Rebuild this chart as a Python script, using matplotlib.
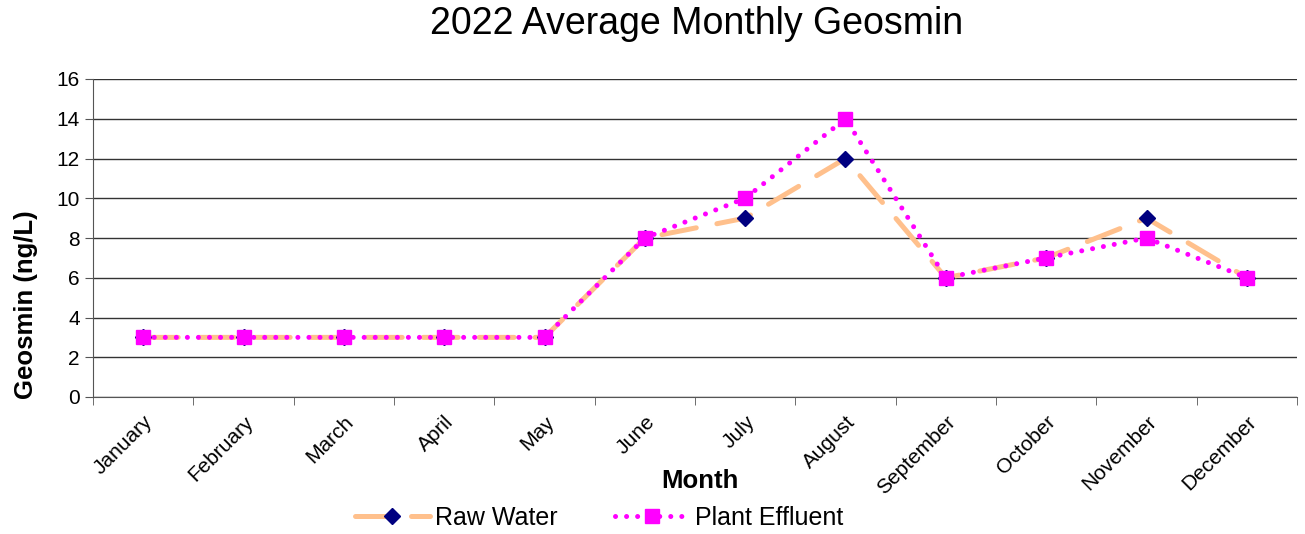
import numpy as np
import matplotlib
matplotlib.use("Agg")
import matplotlib.pyplot as plt

plt.rcParams['font.family'] = ['Liberation Sans', 'DejaVu Sans']

months = ['January', 'February', 'March', 'April', 'May', 'June', 'July',
          'August', 'September', 'October', 'November', 'December']
raw_water = [3, 3, 3, 3, 3, 8, 9, 12, 6, 7, 9, 6]
plant_effluent = [3, 3, 3, 3, 3, 8, 10, 14, 6, 7, 8, 6]

fig = plt.figure(figsize=(13.05, 5.34), dpi=100)
ax = fig.add_axes([93 / 1305, 1 - 397 / 534, (1297 - 93) / 1305, (397 - 79) / 534])

x = np.arange(len(months))
ax.plot(x, raw_water, color='#FFC08C', lw=3.6, dashes=(7, 4.2),
        dash_capstyle='round', marker='D', ms=8, mfc='#000080', mec='#000080',
        label='Raw Water', zorder=3)
ax.plot(x, plant_effluent, color='#FF00FF', lw=3.6, dashes=(0.01, 2.2),
        dash_capstyle='round', marker='s', ms=10.5, mfc='#FF00FF', mec='#FF00FF',
        label='Plant Effluent', zorder=4)

ax.set_xlim(-0.5, len(months) - 0.5)
ax.set_ylim(0, 16)
ax.set_yticks(range(0, 17, 2))
ax.set_xticks(x)
ax.set_xticklabels(months, rotation=45, ha='right', rotation_mode='anchor', fontsize=15)
ax.set_xticks(np.arange(-0.5, len(months)), minor=True)
ax.tick_params(axis='x', which='major', length=0, pad=11)
ax.tick_params(axis='x', which='minor', length=6, color='#555555', direction='out')
ax.tick_params(axis='y', labelsize=15, length=6, color='#555555', direction='out')
ax.grid(axis='y', color='#333333', lw=1)
ax.set_axisbelow(True)
for s in ['top', 'right']:
    ax.spines[s].set_visible(False)
for s in ['left', 'bottom']:
    ax.spines[s].set_color('#555555')

fig.text(0.534, 1 - 24 / 534, '2022 Average Monthly Geosmin', fontsize=27,
         ha='center', va='center')
ax.set_xlabel('Month', fontsize=18.5, fontweight='bold')
ax.xaxis.set_label_coords(0.504, -0.225)
ax.set_ylabel('Geosmin (ng/L)', fontsize=18.5, fontweight='bold')
ax.yaxis.set_label_coords(-0.046, 0.29)

fig.legend(loc='center', bbox_to_anchor=(0.459, 1 - 518 / 534), ncol=2, frameon=False,
           fontsize=18, handlelength=3, columnspacing=2.3, handletextpad=0.2)

fig.savefig('out.png', dpi=100)
